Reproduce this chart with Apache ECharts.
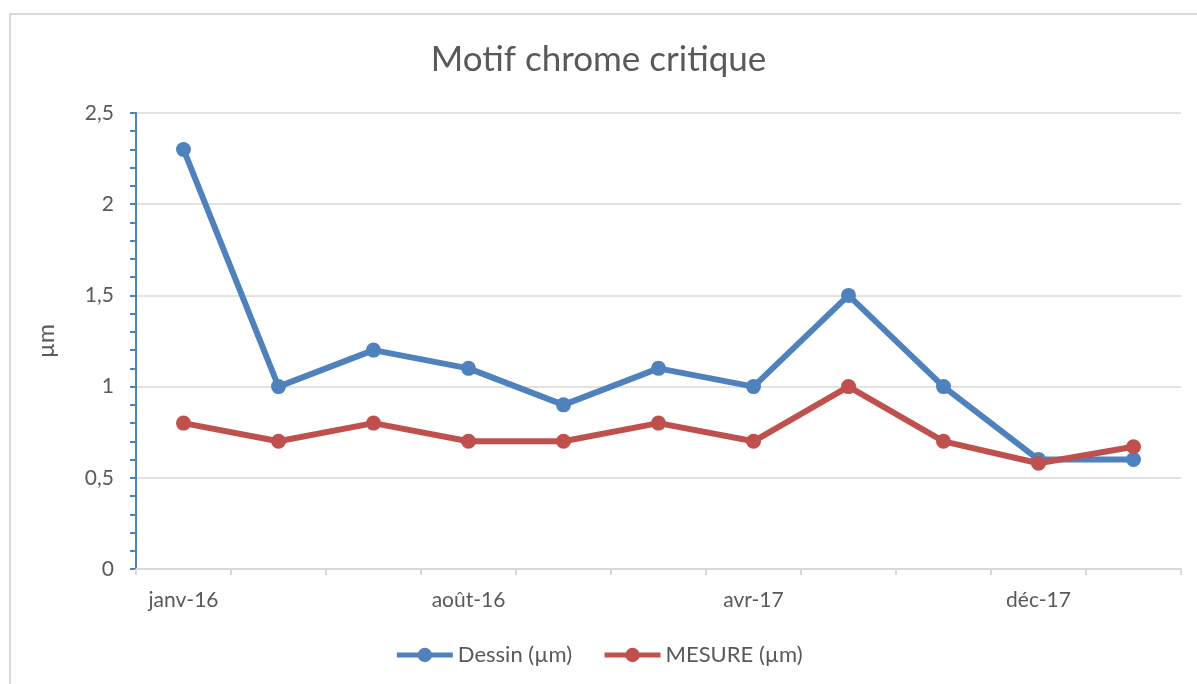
<!DOCTYPE html>
<html>
<head>
<meta charset="utf-8">
<script src="https://cdn.jsdelivr.net/npm/echarts@6/dist/echarts.min.js"></script>
<style>
html, body { margin: 0; padding: 0; background: #fff; overflow: hidden; }
#frame { position: absolute; left: 9px; top: 13px; width: 1260px; height: 720px; border: 2px solid #d9d9d9; }
#chart { position: absolute; left: 0; top: 0; width: 1197px; height: 684px; }
</style>
</head>
<body>
<div id="frame"></div>
<div id="chart"></div>
<script>
// mois des relevés (seuls 1 sur 3 sont affichés)
var months = ['janv-16', 'mars-16', 'mai-16', 'août-16', 'oct-16', 'déc-16', 'avr-17', 'juin-17', 'sept-17', 'déc-17', 'févr-18'];
var dessin = [2.3, 1.0, 1.2, 1.1, 0.9, 1.1, 1.0, 1.5, 1.0, 0.6, 0.6];
var mesure = [0.8, 0.7, 0.8, 0.7, 0.7, 0.8, 0.7, 1.0, 0.7, 0.58, 0.67];
var yTicks = [0, 0.5, 1, 1.5, 2, 2.5];

var FONT = 'Lato';
var GREY = '#595959';

var mychart = echarts.init(document.getElementById('chart'));

function serie(name, data, color) {
    return {
        name: name,
        type: 'line',
        data: data,
        symbol: 'circle',
        symbolSize: 15,
        lineStyle: {color: color, width: 6},
        itemStyle: {color: color},
        emphasis: {disabled: true},
        animation: false
    };
}

var option = {
    textStyle: {fontFamily: FONT},
    title: {
        text: 'Motif chrome critique',
        left: 'center',
        top: 37,
        textStyle: {color: GREY, fontSize: 35, fontWeight: 'normal', fontFamily: FONT}
    },
    legend: {
        bottom: 13,
        left: 'center',
        itemWidth: 56,
        itemHeight: 18,
        itemGap: 30,
        lineStyle: {width: 5},
        textStyle: {color: GREY, fontSize: 22, fontFamily: FONT},
        data: ['Dessin (µm)', 'MESURE (µm)']
    },
    grid: {left: 136, right: 16, top: 113, bottom: 115},
    xAxis: {
        type: 'category',
        data: months,
        boundaryGap: true,
        axisLine: {lineStyle: {color: '#d9d9d9', width: 2}},
        axisTick: {show: true, interval: 0, length: 6, lineStyle: {color: '#d9d9d9', width: 2}},
        axisLabel: {interval: 2, color: GREY, fontSize: 21, margin: 21, fontFamily: FONT},
        splitLine: {show: false}
    },
    yAxis: {
        type: 'value',
        name: 'µm',
        nameLocation: 'middle',
        nameGap: 78,
        nameRotate: 90,
        nameTextStyle: {color: GREY, fontSize: 23, fontFamily: FONT},
        min: yTicks[0],
        max: yTicks[yTicks.length - 1],
        interval: 0.5,
        axisLine: {show: true, lineStyle: {color: '#4f81bd', width: 2}},
        axisTick: {show: true, length: 6, lineStyle: {color: '#4f81bd', width: 2}},
        minorTick: {show: true, splitNumber: 5, length: 6, lineStyle: {color: '#4f81bd', width: 2}},
        axisLabel: {
            color: GREY, fontSize: 21, margin: 22, fontFamily: FONT,
            formatter: function (v) { return String(v).replace('.', ','); }
        },
        splitLine: {lineStyle: {color: '#d9d9d9', width: 1.5}}
    },
    series: [
        serie('Dessin (µm)', dessin, '#4f81bd'),
        serie('MESURE (µm)', mesure, '#c0504d')
    ]
};
mychart.setOption(option);
</script>
</body>
</html>
